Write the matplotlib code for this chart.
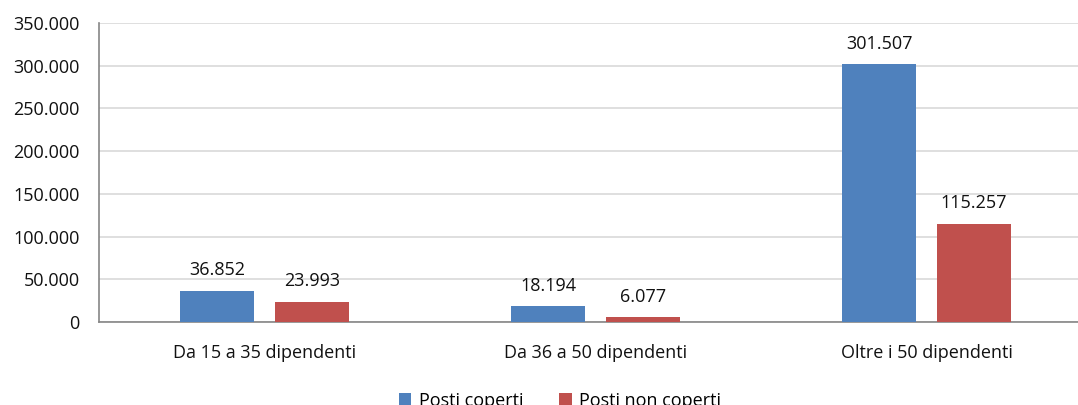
import matplotlib
matplotlib.use("Agg")
import matplotlib.pyplot as plt
import numpy as np
from matplotlib.ticker import FuncFormatter

categories = ["Da 15 a 35 dipendenti", "Da 36 a 50 dipendenti", "Oltre i 50 dipendenti"]
posti_coperti = [36852, 18194, 301507]
posti_non_coperti = [23993, 6077, 115257]
series_names = ["Posti coperti", "Posti non coperti"]
colors = ["#4f81bd", "#c0504d"]

plt.rcParams['font.family'] = ['Open Sans', 'DejaVu Sans']
FS = 13

fig = plt.figure(figsize=(10.78, 4.05), dpi=100)
ax = fig.add_axes([99/1078, 1 - 322/405, 993/1078, (322-23)/405])

x = np.arange(len(categories))
w = 0.224
off = 0.143
b1 = ax.bar(x - off, posti_coperti, w, color=colors[0], label=series_names[0], zorder=3)
b2 = ax.bar(x + off, posti_non_coperti, w, color=colors[1], label=series_names[1], zorder=3)

def fmt(v):
    return f"{int(v):,}".replace(",", ".")

for bars in (b1, b2):
    for r in bars:
        ax.annotate(fmt(r.get_height()), (r.get_x() + r.get_width()/2, r.get_height()),
                    xytext=(0, 8), textcoords="offset points", ha="center", va="bottom",
                    fontsize=FS, color="#111111")

ax.set_xlim(-0.5, 2.5)
ax.set_ylim(0, 350000)
ax.set_yticks(np.arange(0, 350001, 50000))
ax.yaxis.set_major_formatter(FuncFormatter(lambda v, p: fmt(v)))
ax.set_xticks(x)
ax.set_xticklabels(categories)
ax.tick_params(axis='both', length=0, labelsize=FS, colors="#111111")
ax.tick_params(axis='x', pad=16)
ax.tick_params(axis='y', pad=14)
ax.grid(axis='y', color="#d9d9d9", linewidth=1.2, zorder=0)
for s in ["top", "right"]:
    ax.spines[s].set_visible(False)
ax.spines["left"].set_color("#868686")
ax.spines["bottom"].set_color("#868686")
ax.spines["left"].set_linewidth(1.2)
ax.spines["bottom"].set_linewidth(1.2)

fig.legend(handles=[b1, b2], labels=series_names, loc="center", bbox_to_anchor=(560/1078, 1 - 401/405),
           ncol=2, frameon=False, fontsize=FS, handlelength=0.7, handleheight=0.7,
           handletextpad=0.4, columnspacing=2.0)

fig.savefig("out.png", dpi=100)
